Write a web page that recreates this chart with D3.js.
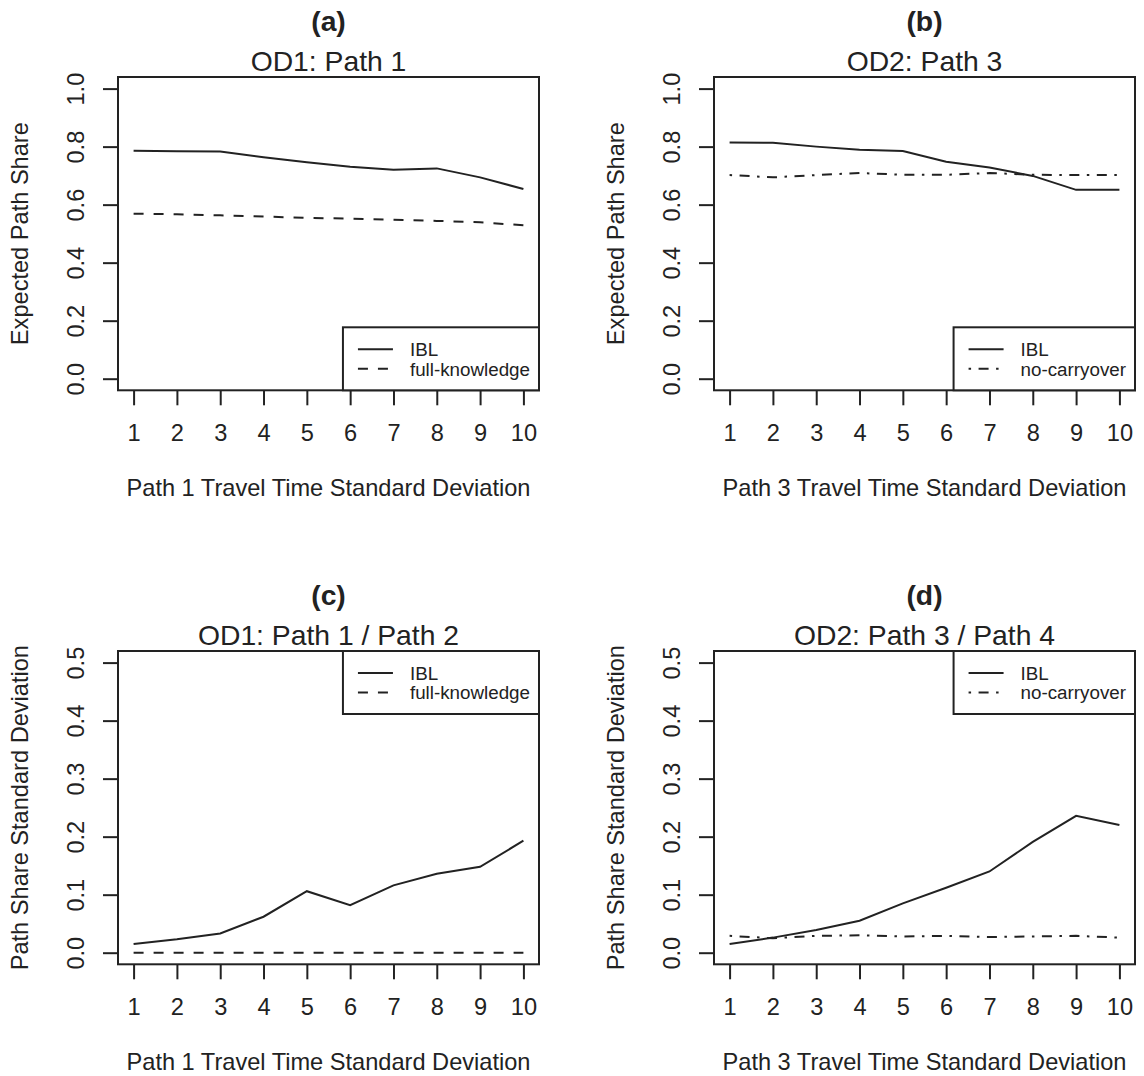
<!DOCTYPE html>
<html>
<head>
<meta charset="utf-8">
<script src="https://cdn.jsdelivr.net/npm/d3@7"></script>
<style>
  body { margin: 0; background: #fff; }
  text { font-family: "Liberation Sans", Arial, sans-serif; fill: #222; }
</style>
</head>
<body>
<svg id="chart" width="1144" height="1076"></svg>
<script>
// travel time standard deviation levels (x axis)
var sdLevels = [1, 2, 3, 4, 5, 6, 7, 8, 9, 10];

// (a) expected share of path 1
var od1ShareIBL  = [0.786, 0.784, 0.783, 0.763, 0.746, 0.731, 0.720, 0.725, 0.694, 0.654];
var od1ShareFull = [0.569, 0.567, 0.563, 0.559, 0.554, 0.552, 0.548, 0.544, 0.539, 0.529];

// (b) expected share of path 3
var od2ShareIBL     = [0.814, 0.813, 0.800, 0.789, 0.785, 0.748, 0.728, 0.699, 0.651, 0.651];
var od2ShareNoCarry = [0.702, 0.694, 0.702, 0.709, 0.703, 0.703, 0.709, 0.703, 0.702, 0.702];

// (c) std dev of path share, OD1
var od1SdIBL  = [0.015, 0.023, 0.033, 0.062, 0.106, 0.082, 0.116, 0.136, 0.148, 0.193];
var od1SdFull = [0, 0, 0, 0, 0, 0, 0, 0, 0, 0];

// (d) std dev of path share, OD2
var od2SdIBL     = [0.015, 0.026, 0.039, 0.055, 0.085, 0.112, 0.140, 0.191, 0.236, 0.220];
var od2SdNoCarry = [0.029, 0.025, 0.029, 0.030, 0.028, 0.029, 0.027, 0.028, 0.029, 0.026];

var shareTicks = [0, 0.2, 0.4, 0.6, 0.8, 1.0];
var sdTicks = [0, 0.1, 0.2, 0.3, 0.4, 0.5];

var SOLID = null, DASHED = "10,10", DOTDASH = "2.5,7.5,10,7.5";

var panels = [
  { tag: "(a)", title: "OD1: Path 1", xlab: "Path 1 Travel Time Standard Deviation",
    ylab: "Expected Path Share", yTicks: shareTicks, legend: "bottomright", ox: 0, oy: 0,
    series: [{ name: "IBL", values: od1ShareIBL, dash: SOLID },
             { name: "full-knowledge", values: od1ShareFull, dash: DASHED }] },
  { tag: "(b)", title: "OD2: Path 3", xlab: "Path 3 Travel Time Standard Deviation",
    ylab: "Expected Path Share", yTicks: shareTicks, legend: "bottomright", ox: 596, oy: 0,
    series: [{ name: "IBL", values: od2ShareIBL, dash: SOLID },
             { name: "no-carryover", values: od2ShareNoCarry, dash: DOTDASH }] },
  { tag: "(c)", title: "OD1: Path 1 / Path 2", xlab: "Path 1 Travel Time Standard Deviation",
    ylab: "Path Share Standard Deviation", yTicks: sdTicks, legend: "topright", ox: 0, oy: 574,
    series: [{ name: "IBL", values: od1SdIBL, dash: SOLID },
             { name: "full-knowledge", values: od1SdFull, dash: DASHED }] },
  { tag: "(d)", title: "OD2: Path 3 / Path 4", xlab: "Path 3 Travel Time Standard Deviation",
    ylab: "Path Share Standard Deviation", yTicks: sdTicks, legend: "topright", ox: 596, oy: 574,
    series: [{ name: "IBL", values: od2SdIBL, dash: SOLID },
             { name: "no-carryover", values: od2SdNoCarry, dash: DOTDASH }] }
];

var svg = d3.select("#chart");
var ink = "#222";

// plot box inside each panel
var boxLeft = 118, boxTop = 77, boxW = 421, boxH = 313.3;
var axisFont = 23.6, titleFont = 28.3, legendFont = 18.8;

panels.forEach(function(p) {
  var g = svg.append("g").attr("transform", "translate(" + p.ox + "," + p.oy + ")");

  // R style 4% padding on both axes
  var xPad = (d3.max(sdLevels) - d3.min(sdLevels)) * 0.04;
  var x = d3.scaleLinear()
      .domain([d3.min(sdLevels) - xPad, d3.max(sdLevels) + xPad])
      .range([boxLeft, boxLeft + boxW]);
  var y0 = d3.min(p.yTicks), y1 = d3.max(p.yTicks), yPad = (y1 - y0) * 0.04;
  var y = d3.scaleLinear()
      .domain([y0 - yPad, y1 + yPad])
      .range([boxTop + boxH, boxTop]);

  // x axis
  var gx = g.append("g")
      .attr("transform", "translate(0," + (boxTop + boxH) + ")")
      .call(d3.axisBottom(x).tickValues(sdLevels).tickFormat(d3.format("d"))
            .tickSizeInner(15).tickSizeOuter(0).tickPadding(18.7));
  gx.attr("font-size", null).attr("font-family", null).style("color", ink);
  gx.select(".domain").remove();
  gx.selectAll(".tick line").attr("stroke-width", 2);
  gx.selectAll(".tick text").style("font-size", axisFont + "px");

  // y axis with labels turned like R's las = 0
  var gy = g.append("g")
      .attr("transform", "translate(" + boxLeft + ",0)")
      .call(d3.axisLeft(y).tickValues(p.yTicks).tickFormat(d3.format(".1f"))
            .tickSizeInner(15).tickSizeOuter(0));
  gy.attr("font-size", null).attr("font-family", null).style("color", ink);
  gy.select(".domain").remove();
  gy.selectAll(".tick line").attr("stroke-width", 2);
  gy.selectAll(".tick text")
      .attr("x", 0).attr("y", 0).attr("dy", "0.35em")
      .attr("text-anchor", "middle")
      .attr("transform", "translate(-42,0) rotate(-90)")
      .style("font-size", axisFont + "px");

  // box
  g.append("rect")
      .attr("x", boxLeft).attr("y", boxTop).attr("width", boxW).attr("height", boxH)
      .attr("fill", "none").attr("stroke", ink).attr("stroke-width", 2);

  // series
  var line = d3.line()
      .x(function(d, i) { return x(sdLevels[i]); })
      .y(function(d) { return y(d); });

  p.series.forEach(function(s) {
    g.append("path")
        .datum(s.values)
        .attr("d", line)
        .attr("fill", "none")
        .attr("stroke", ink)
        .attr("stroke-width", 2)
        .attr("stroke-dasharray", s.dash);
  });

  // titles
  g.append("text")
      .attr("x", boxLeft + boxW / 2).attr("y", boxTop - 56).attr("dy", "0.36em")
      .attr("text-anchor", "middle")
      .style("font-size", titleFont + "px").style("font-weight", "bold")
      .text(p.tag);
  g.append("text")
      .attr("x", boxLeft + boxW / 2).attr("y", boxTop - 16).attr("dy", "0.36em")
      .attr("text-anchor", "middle")
      .style("font-size", titleFont + "px")
      .text(p.title);

  // axis titles
  g.append("text")
      .attr("x", boxLeft + boxW / 2).attr("y", boxTop + boxH + 97).attr("dy", "0.36em")
      .attr("text-anchor", "middle")
      .style("font-size", axisFont + "px")
      .text(p.xlab);
  g.append("text")
      .attr("transform", "translate(" + (boxLeft - 99) + "," + (boxTop + boxH / 2) + ") rotate(-90)")
      .attr("dy", "0.36em")
      .attr("text-anchor", "middle")
      .style("font-size", axisFont + "px")
      .text(p.ylab);

  // legend
  var lg = g.append("g");
  var items = lg.selectAll("g.item").data(p.series).enter().append("g").attr("class", "item");
  items.append("text")
      .attr("x", 67).attr("dy", "0.36em")
      .style("font-size", legendFont + "px")
      .text(function(d) { return d.name; });
  var textW = 0;
  items.selectAll("text").each(function() { textW = Math.max(textW, this.getComputedTextLength()); });
  var lw = 67 + textW + 9, lh = 63;
  var lx = boxLeft + boxW - lw;
  var ly = p.legend === "bottomright" ? boxTop + boxH - lh : boxTop;
  lg.attr("transform", "translate(" + lx + "," + ly + ")");
  lg.insert("rect", ":first-child")
      .attr("width", lw).attr("height", lh)
      .attr("fill", "#fff").attr("stroke", ink).attr("stroke-width", 2);
  items.attr("transform", function(d, i) { return "translate(0," + (22 + i * 19.5) + ")"; });
  items.append("line")
      .attr("x1", 15).attr("x2", 50)
      .attr("stroke", ink).attr("stroke-width", 2)
      .attr("stroke-dasharray", function(d) { return d.dash; });
});
</script>
</body>
</html>
